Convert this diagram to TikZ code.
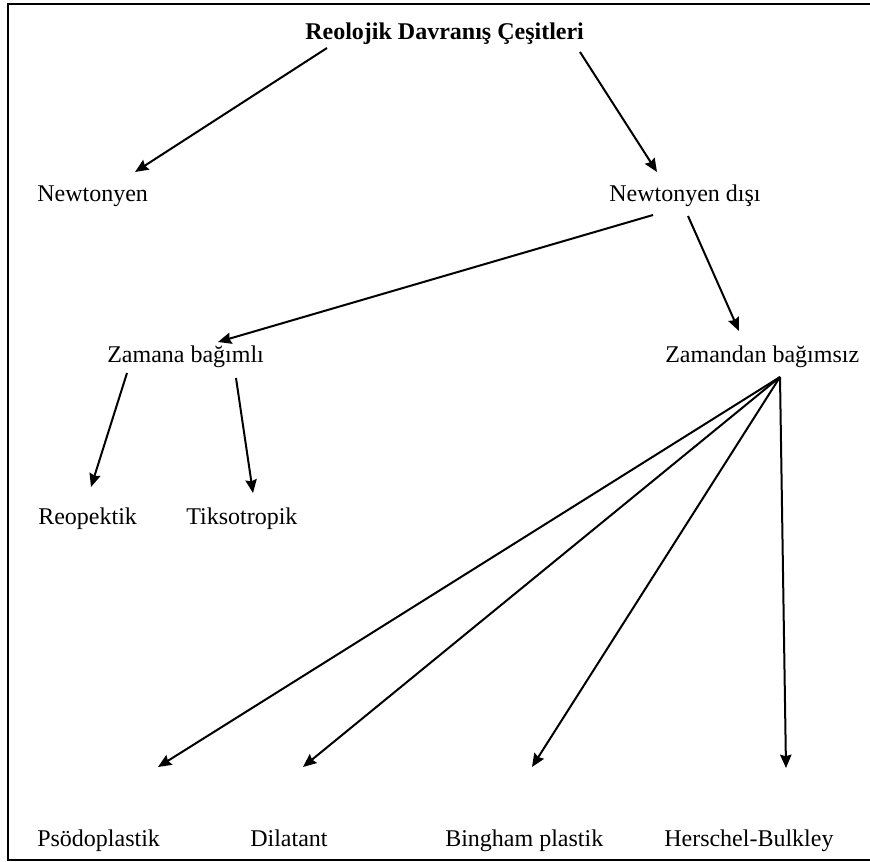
\documentclass[tikz,border=0pt]{standalone}
\usepackage{fontspec}
\setmainfont{Liberation Serif}
\usetikzlibrary{arrows.meta}
\begin{document}
\begin{tikzpicture}[x=0.75pt,y=-0.75pt,
  lbl/.style={anchor=base west,inner sep=0pt,font=\fontsize{18}{21}\selectfont},
  conn/.style={line width=1.5pt,-{Stealth[length=10pt,width=8.5pt,inset=1.2pt]}},
  frame/.style={line width=1.8pt}]
\useasboundingbox (0,0) rectangle (870,862);
\draw[frame] (880,4) -- (8,4) -- (8,860) -- (880,860);
% nodes
\node[lbl,font=\fontsize{18}{21}\selectfont\bfseries] (title) at (305,40) {Reolojik Davranış Çeşitleri};
\node[lbl] (newt) at (37,202) {Newtonyen};
\node[lbl] (nnewt) at (609,202) {Newtonyen dışı};
\node[lbl] (zam) at (107,363) {Zamana bağımlı};
\node[lbl] (zind) at (665,363) {Zamandan bağımsız};
\node[lbl] (reo) at (38,524) {Reopektik};
\node[lbl] (tik) at (186,524) {Tiksotropik};
\node[lbl] (pso) at (37,846) {Psödoplastik};
\node[lbl] (dil) at (250,846) {Dilatant};
\node[lbl] (bing) at (445,846) {Bingham plastik};
\node[lbl] (hb) at (664,846) {Herschel-Bulkley};
% connector ends
\coordinate (titleL) at (327,48);
\coordinate (titleR) at (580,52);
\coordinate (newtT) at (135,172);
\coordinate (nnewtT) at (657,172);
\coordinate (nnewtL) at (653,215);
\coordinate (nnewtR) at (688,216);
\coordinate (zamT) at (218,342);
\coordinate (zindT) at (739,331);
\coordinate (zamL) at (127,373);
\coordinate (zamR) at (236,378);
\coordinate (reoT) at (91,487);
\coordinate (tikT) at (253,493);
\coordinate (zindB) at (780,377);
\coordinate (psoT) at (158,767);
\coordinate (dilT) at (303,767);
\coordinate (bingT) at (532,767);
\coordinate (hbT) at (786,768);
% connectors
\draw[conn] (titleL) -- (newtT);
\draw[conn] (titleR) -- (nnewtT);
\draw[conn] (nnewtL) -- (zamT);
\draw[conn] (nnewtR) -- (zindT);
\draw[conn] (zamL) -- (reoT);
\draw[conn] (zamR) -- (tikT);
\draw[conn] (zindB) -- (psoT);
\draw[conn] (zindB) -- (dilT);
\draw[conn] (zindB) -- (bingT);
\draw[conn] (zindB) -- (hbT);
\end{tikzpicture}
\end{document}
